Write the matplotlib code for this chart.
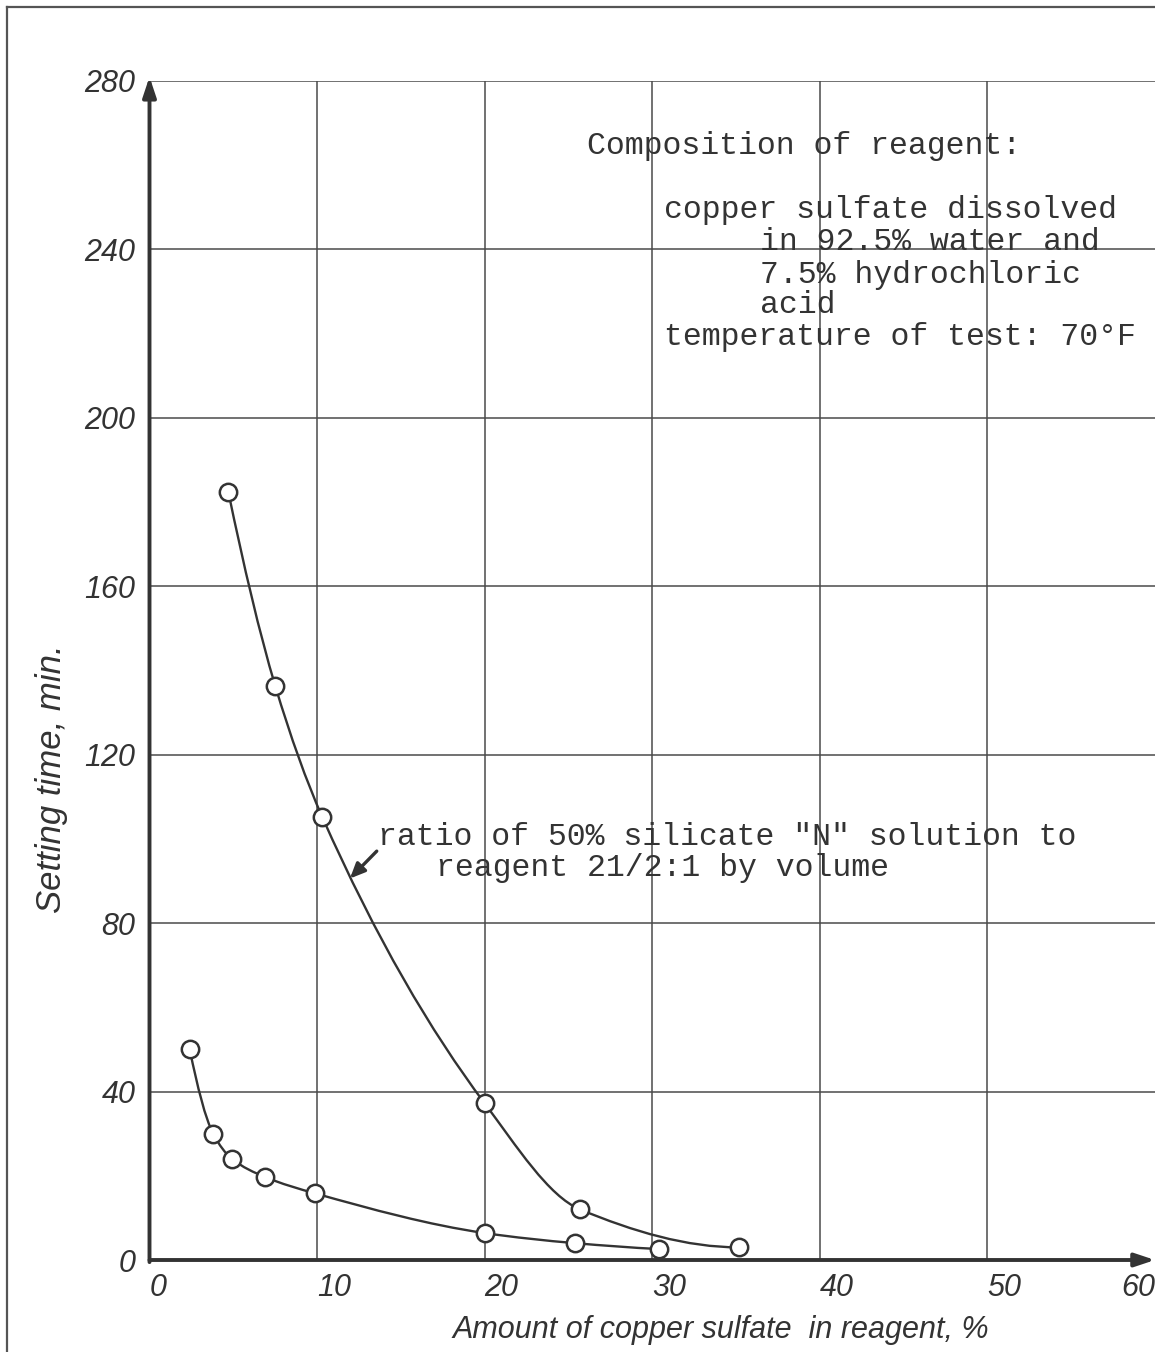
import numpy as np
import matplotlib
matplotlib.use("Agg")
import matplotlib.pyplot as plt
from matplotlib.path import Path
from matplotlib.patches import PathPatch
from matplotlib.lines import Line2D

# data
x_upper = [4.7, 7.5, 10.3, 20.0, 25.7, 35.2]
y_upper = [182.5, 136.4, 105.3, 37.2, 12.0, 3.0]
x_lower = [2.4, 3.8, 4.9, 6.9, 9.9, 20.0, 25.4, 30.4]
y_lower = [50.0, 30.0, 24.1, 19.7, 15.8, 6.4, 4.0, 2.6]

x_ticks = [0, 10, 20, 30, 40, 50, 60]
y_ticks = [0, 40, 80, 120, 160, 200, 240, 280]

note_lines = ["Composition of reagent:",
              "copper sulfate dissolved",
              "in 92.5% water and",
              "7.5% hydrochloric",
              "acid",
              "temperature of test: 70\u00b0F"]
note_x = [26.1, 30.7, 36.4, 36.4, 36.4, 30.7]
note_y = [262.7, 247.5, 239.9, 232.0, 224.9, 217.3]

ratio_lines = ['ratio of 50% silicate "N" solution to',
               'reagent 21/2:1 by volume']

ink = '#333333'
hand = dict(family='Liberation Sans', style='italic', color=ink)
mono = dict(family='Liberation Mono', color=ink, fontsize=22.7)


def smooth_path(xs, ys):
    # monotone cubic (Fritsch-Carlson slopes) drawn as bezier segments
    xs = np.asarray(xs, float)
    ys = np.asarray(ys, float)
    h = np.diff(xs)
    s = np.diff(ys) / h
    n = len(xs)
    d = np.zeros(n)
    for i in range(1, n - 1):
        if s[i - 1] * s[i] <= 0:
            d[i] = 0
        else:
            w1 = 2 * h[i] + h[i - 1]
            w2 = h[i] + 2 * h[i - 1]
            d[i] = (w1 + w2) / (w1 / s[i - 1] + w2 / s[i])
    d[0] = ((2 * h[0] + h[1]) * s[0] - h[0] * s[1]) / (h[0] + h[1])
    if np.sign(d[0]) != np.sign(s[0]):
        d[0] = 0
    d[-1] = ((2 * h[-1] + h[-2]) * s[-1] - h[-1] * s[-2]) / (h[-1] + h[-2])
    if np.sign(d[-1]) != np.sign(s[-1]):
        d[-1] = 0
    verts = [(xs[0], ys[0])]
    codes = [Path.MOVETO]
    for i in range(n - 1):
        verts += [(xs[i] + h[i] / 3, ys[i] + d[i] * h[i] / 3),
                  (xs[i + 1] - h[i] / 3, ys[i + 1] - d[i + 1] * h[i] / 3),
                  (xs[i + 1], ys[i + 1])]
        codes += [Path.CURVE4] * 3
    return Path(verts, codes)


fig = plt.figure(figsize=(11.55, 13.52), dpi=100)
W, H = 1155, 1352
ax = fig.add_axes([149.5 / W, (H - 1260) / H, (1155 - 149.5) / W, (1260 - 81) / H])
ax.set_xlim(0, 60)
ax.set_ylim(0, 280)

for s in ax.spines.values():
    s.set_visible(False)

# grid
ax.vlines(x_ticks[1:-1], 0, 280, color='#4a4a4a', lw=1.1, zorder=1)
ax.hlines(y_ticks[1:], 0, 60, color='#4a4a4a', lw=1.1, zorder=1)

# axes with arrows
arrow = dict(arrowstyle='-|>,head_length=1.2,head_width=0.4',
             color=ink, lw=2.8, shrinkA=0, shrinkB=0)
ax.annotate('', xy=(60, 0), xytext=(0, 0), annotation_clip=False,
            arrowprops=arrow, zorder=3)
ax.annotate('', xy=(0, 281), xytext=(0, -0.5), annotation_clip=False,
            arrowprops=arrow, zorder=3)

# curves
for xs, ys in [(x_upper, y_upper), (x_lower, y_lower)]:
    ax.add_patch(PathPatch(smooth_path(xs, ys), fill=False, ec=ink, lw=1.7, zorder=2))
    ax.plot(xs, ys, 'o', ms=12.5, mfc='white', mec=ink, mew=1.8, zorder=4)

# ticks
ax.set_xticks(x_ticks)
ax.set_xticklabels([str(v) for v in x_ticks], ha='left', **hand, fontsize=22)
ax.set_yticks(y_ticks)
ax.set_yticklabels([str(v) for v in y_ticks], **hand, fontsize=22)
ax.tick_params(axis='x', length=0, pad=9)
ax.tick_params(axis='y', length=0, pad=10)
ax.xaxis.get_major_ticks()[-1].label1.set_ha('right')

fig.text(52 / W, 1 - 779 / H, 'Setting time, min.', rotation=90,
         ha='center', va='center', fontsize=25, **hand)
fig.text(721 / W, 1 - 1330 / H, 'Amount of copper sulfate  in reagent, %',
         ha='center', va='center', fontsize=22, **hand)

# notes
for t, x, y in zip(note_lines, note_x, note_y):
    ax.text(x, y, t, ha='left', va='baseline', zorder=5, **mono)
ax.text(13.63, 98.6, ratio_lines[0], ha='left', va='baseline', zorder=5, **mono)
ax.text(17.09, 91.2, ratio_lines[1], ha='left', va='baseline', zorder=5, **mono)
ax.annotate('', xy=(11.96, 90.6), xytext=(13.56, 97.1),
            arrowprops=dict(arrowstyle='-|>,head_length=0.9,head_width=0.4',
                            color=ink, lw=2.4, shrinkA=0, shrinkB=0), zorder=5)

# page frame
fig.add_artist(Line2D([7 / W, 7 / W], [0, 1 - 7 / H], transform=fig.transFigure,
                      color='#555555', lw=1.6))
fig.add_artist(Line2D([7 / W, 1], [1 - 7 / H, 1 - 7 / H], transform=fig.transFigure,
                      color='#555555', lw=1.6))

fig.savefig('out.png', dpi=100, facecolor='white')
